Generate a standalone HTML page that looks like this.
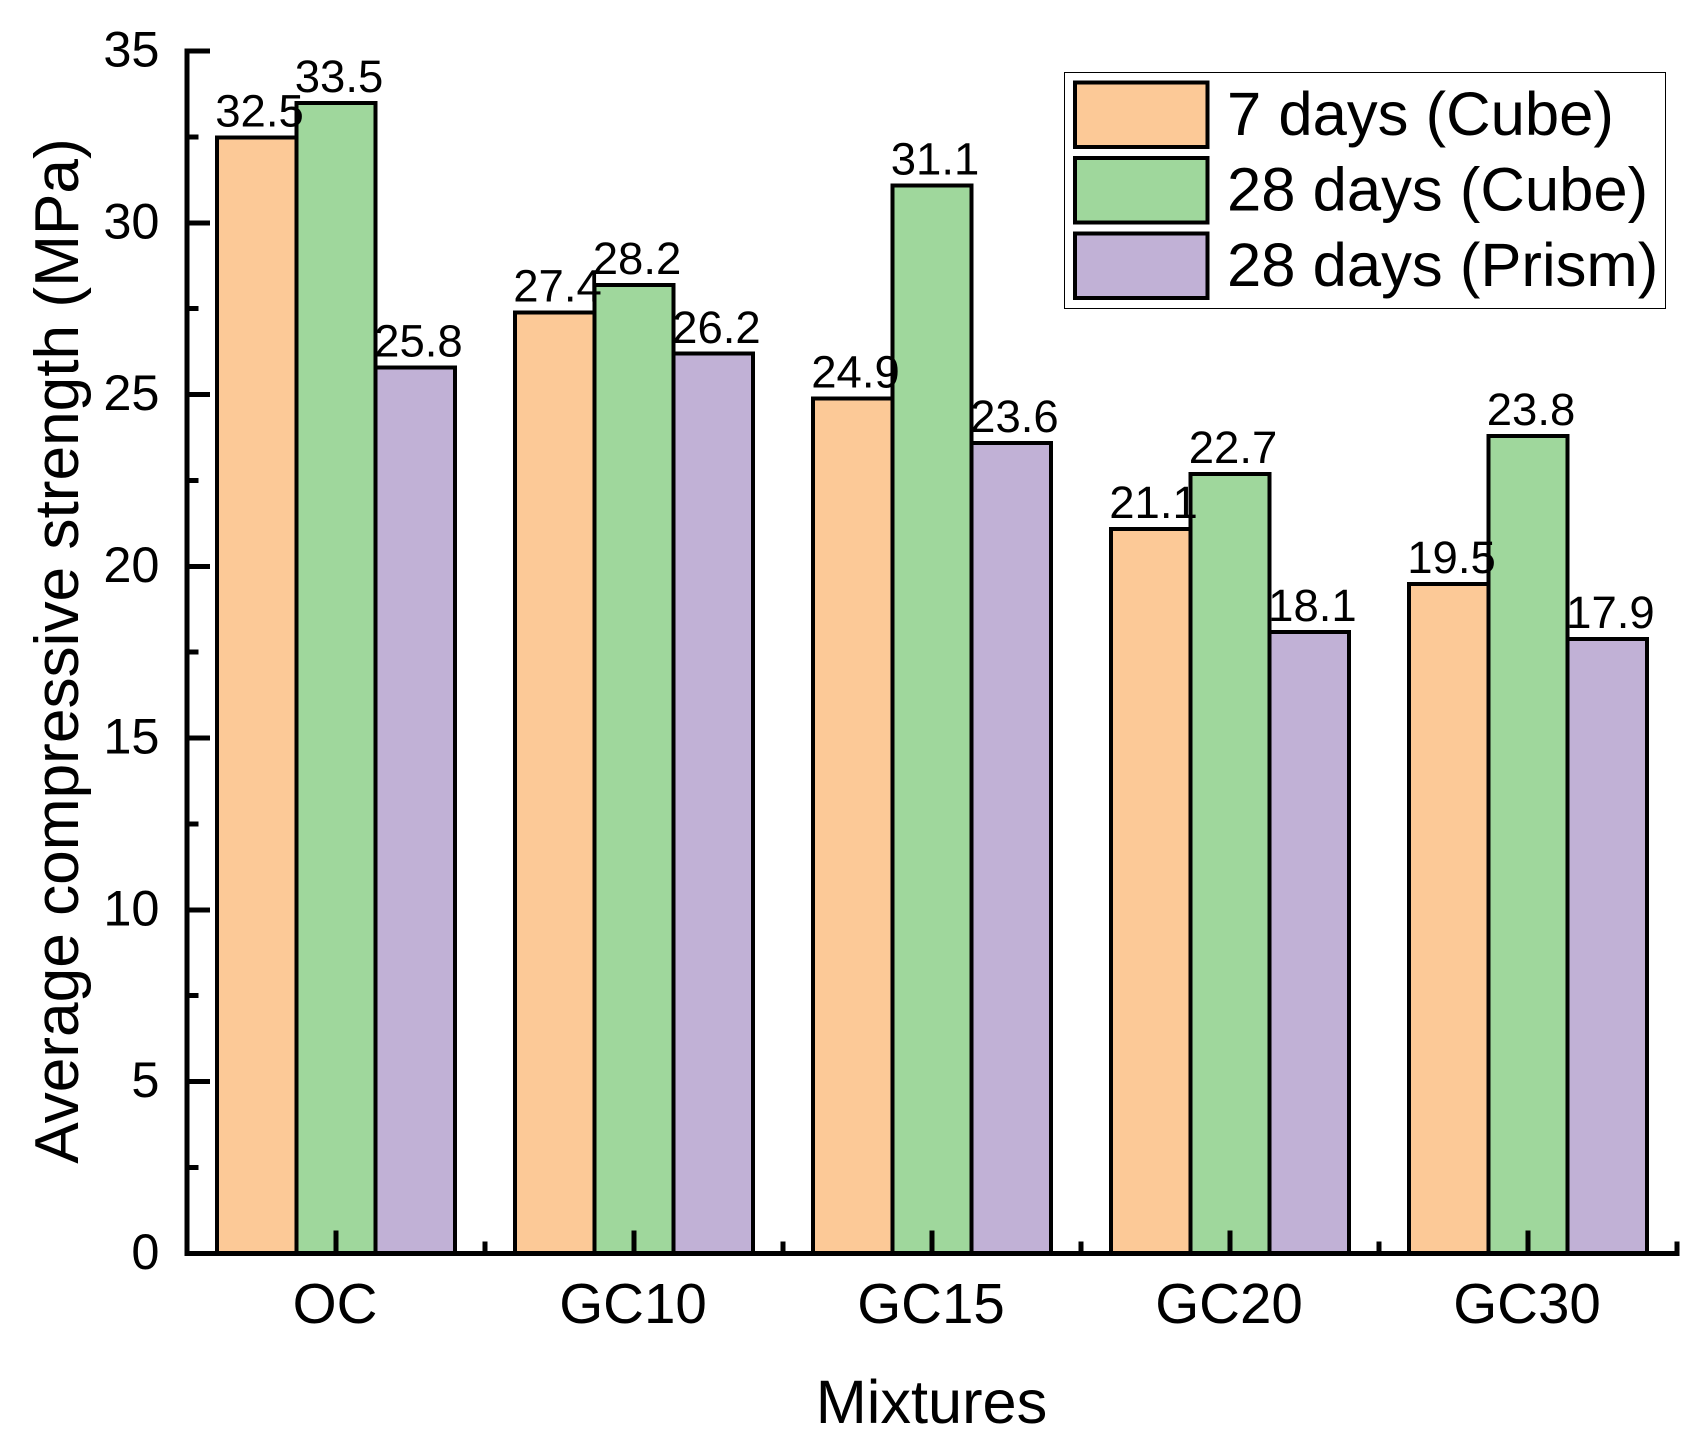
<!DOCTYPE html>
<html lang="en">
<head>
<meta charset="utf-8">
<title>Average compressive strength by mixture</title>
<style>
  html, body { margin: 0; padding: 0; background: #fff; }
  svg { display: block; }
  text { font-family: "Liberation Sans", Arial, sans-serif; fill: #000; }
  rect, line { shape-rendering: crispEdges; }
</style>
</head>
<body>
<svg id="chart" xmlns="http://www.w3.org/2000/svg" width="1695" height="1441" viewBox="0 0 1695 1441">
  <rect x="0" y="0" width="1695" height="1441" fill="#ffffff"/>
  <g id="bars"></g>
  <g id="axes"></g>
  <g id="value-labels"></g>
  <text transform="translate(78 651) rotate(-90)" text-anchor="middle" font-size="62.2">Average compressive strength (MPa)</text>
  <text x="931.5" y="1423" text-anchor="middle" font-size="61.3">Mixtures</text>
  <g id="legend">
    <rect x="1064.5" y="72.5" width="601" height="236" fill="#ffffff" stroke="#000000" stroke-width="1.4"/>
  </g>
</svg>
<script>
const categories = ['OC', 'GC10', 'GC15', 'GC20', 'GC30'];
const cube7 = [32.5, 27.4, 24.9, 21.1, 19.5];
const cube28 = [33.5, 28.2, 31.1, 22.7, 23.8];
const prism28 = [25.8, 26.2, 23.6, 18.1, 17.9];
const seriesNames = ['7 days (Cube)', '28 days (Cube)', '28 days (Prism)'];
const seriesKeys = ['cube-7d', 'cube-28d', 'prism-28d'];
const seriesColors = ['#FCC997', '#9FD79C', '#C1B1D6'];
const yTickLabels = [0, 5, 10, 15, 20, 25, 30, 35];
const yMinorTicks = [2.5, 7.5, 12.5, 17.5, 22.5, 27.5, 32.5];

const NS = 'http://www.w3.org/2000/svg';
const plot = { left: 187, right: 1677, top: 51, bottom: 1253.3 };
const yMax = 35;
const seriesValues = [cube7, cube28, prism28];

function yScale(v) {
  return plot.bottom - (v / yMax) * (plot.bottom - plot.top);
}
function bandWidth() {
  return (plot.right - plot.left) / categories.length;
}
function xCenter(i) {
  return plot.left + bandWidth() * (i + 0.5);
}
function barWidth() {
  return bandWidth() * 0.8 / seriesValues.length;
}
function xBar(i, s) {
  return xCenter(i) - bandWidth() * 0.4 + s * barWidth();
}
function make(tag, parent) {
  const el = document.createElementNS(NS, tag);
  parent.appendChild(el);
  return el;
}
function setAll(el, props) {
  Object.keys(props).forEach(function (k) { el.setAttribute(k, props[k]); });
}

const barsG = document.getElementById('bars');
const axesG = document.getElementById('axes');
const labelsG = document.getElementById('value-labels');
const legendG = document.getElementById('legend');

seriesValues.forEach(function (values, s) {
  values.forEach(function (v, i) {
    const bar = make('rect', barsG);
    
    
    setAll(bar, { x: xBar(i, s), y: yScale(v) + 0.4, width: barWidth(), height: plot.bottom - yScale(v) - 0.4,
      fill: seriesColors[s], stroke: '#000', 'stroke-width': 4 });

    const label = make('text', labelsG);
    
    
    setAll(label, { x: xBar(i, s) + barWidth() / 2 + 3, y: yScale(v) - 10.5, 'text-anchor': 'middle', 'font-size': 45.5 });
    label.textContent = v.toFixed(1);
  });
});

const yAxisLine = make('line', axesG);


setAll(yAxisLine, { x1: plot.left, x2: plot.left, y1: plot.top - 2.5, y2: plot.bottom + 2.5, stroke: '#000', 'stroke-width': 5 });

const xAxisLine = make('line', axesG);


setAll(xAxisLine, { x1: plot.left - 2.5, x2: plot.right + 2.5, y1: plot.bottom, y2: plot.bottom, stroke: '#000', 'stroke-width': 5 });

yTickLabels.forEach(function (t) {
  const tick = make('line', axesG);
  
  
  setAll(tick, { x1: plot.left, x2: plot.left + 23, y1: yScale(t), y2: yScale(t), stroke: '#000', 'stroke-width': 5 });

  const label = make('text', axesG);
  
  
  setAll(label, { x: 159.5, y: yScale(t) + 15.5, 'text-anchor': 'end', 'font-size': 50.5 });
  label.textContent = String(t);
});

yMinorTicks.forEach(function (t) {
  const tick = make('line', axesG);
  
  
  setAll(tick, { x1: plot.left, x2: plot.left + 11.5, y1: yScale(t), y2: yScale(t), stroke: '#000', 'stroke-width': 5 });
});

categories.forEach(function (c, i) {
  const tick = make('line', axesG);
  
  
  setAll(tick, { x1: xCenter(i), x2: xCenter(i), y1: plot.bottom, y2: plot.bottom - 23, stroke: '#000', 'stroke-width': 5 });

  const minor = make('line', axesG);
  
  
  const mx = xCenter(i) + bandWidth() / 2;
  setAll(minor, { x1: mx, x2: mx, y1: plot.bottom, y2: plot.bottom - 12, stroke: '#000', 'stroke-width': 5 });

  const label = make('text', axesG);
  
  
  setAll(label, { x: xCenter(i) - 1, y: 1323, 'text-anchor': 'middle', 'font-size': 56.5 });
  label.textContent = c;
});

seriesNames.forEach(function (name, s) {
  const rowTop = 82.5 + s * 75.4;
  const swatch = make('rect', legendG);
  
  
  setAll(swatch, { x: 1075, y: rowTop, width: 132.5, height: 64.5, fill: seriesColors[s], stroke: '#000', 'stroke-width': 4 });

  const label = make('text', legendG);
  
  
  setAll(label, { x: 1227, y: rowTop + 52.5, 'font-size': 61.6 });
  label.textContent = name;
});
</script>
</body>
</html>
